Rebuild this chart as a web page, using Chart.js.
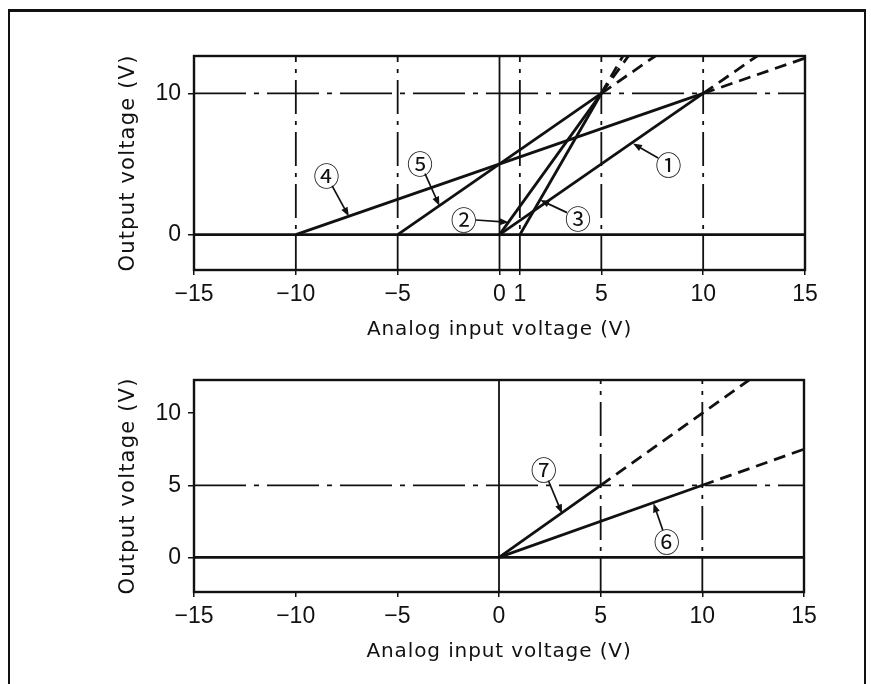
<!DOCTYPE html>
<html><head><meta charset="utf-8">
<script src="https://cdn.jsdelivr.net/npm/chart.js@4.4.1/dist/chart.umd.min.js"></script>
<style>
html,body{margin:0;padding:0;background:#fff;width:871px;height:684px;overflow:hidden;position:relative;}
#frame{position:absolute;left:8px;top:9px;width:858px;height:720px;border:2px solid #111;border-top-width:3px;box-sizing:border-box;}
canvas{position:absolute;left:0;}
#c1{top:0;width:871px;height:350px;}
#c2{top:350px;width:871px;height:334px;}
</style></head><body>
<div id="frame"></div>
<canvas id="c1" width="871" height="350"></canvas>
<canvas id="c2" width="871" height="334"></canvas>
<script>
// ---------------- data ----------------
const xRange = [-15, 15];

// upper chart
const topXTicks  = [-15, -10, -5, 0, 1, 5, 10, 15];
const topXLabels = ['−15', '−10', '−5', '0', '1', '5', '10', '15'];
const topYTicks  = [0, 10];
const topYLabels = ['0', '10'];
const topYRange  = [-2.5, 12.65];
const topDashDotX = [-10, -5, 1, 5, 10];
const topSolidX   = [0];
const topDashDotY = [10];
const topSolidY   = [0];
// series: solid part up to index 1, dashed continuation after it
const s1x = [0, 10, 12.65],  s1y = [0, 10, 12.65];
const s2x = [0, 5, 6.33],    s2y = [0, 10, 12.65];
const s3x = [1, 5, 6.06],    s3y = [0, 10, 12.65];
const s4x = [-10, 10, 15],   s4y = [0, 10, 12.5];
const s5x = [-5, 5, 7.65],   s5y = [0, 10, 12.65];
const topMarks   = ['①', '②', '③', '④', '⑤'];
const topMarkAt  = [[8.3, 5.0], [-1.75, 1.1], [3.85, 1.2], [-8.5, 4.2], [-3.9, 5.1]];
const topMarkTip = [[6.55, 6.45], [0.45, 0.88], [2.0, 2.45], [-7.4, 1.3], [-2.95, 2.05]];

// lower chart
const botXTicks  = [-15, -10, -5, 0, 5, 10, 15];
const botXLabels = ['−15', '−10', '−5', '0', '5', '10', '15'];
const botYTicks  = [0, 5, 10];
const botYLabels = ['0', '5', '10'];
const botYRange  = [-2.4, 12.3];
const botDashDotX = [5, 10];
const botSolidX   = [0];
const botDashDotY = [5];
const botSolidY   = [0];
const s6x = [0, 10, 15],   s6y = [0, 5, 7.5];
const s7x = [0, 5, 12.3],  s7y = [0, 5, 12.3];
const botMarks   = ['⑥', '⑦'];
const botMarkAt  = [[8.25, 1.1], [2.2, 6.1]];
const botMarkTip = [[7.6, 3.75], [3.1, 3.05]];

// ---------------- styling ----------------
const INK = '#111';
const TICK_FONT = {family: '"Liberation Sans", Arial, sans-serif', size: 23};
const TITLE_FAMILY = '"DejaVu Sans", "Liberation Sans", sans-serif';
const DASHDOT_V = [34, 7, 4, 7];
const DASHDOT_H = [52, 8, 5, 8];
const EXT_DASH = [12, 7];

function pts(xs, ys) { return xs.map((x, i) => ({x: x, y: ys[i]})); }
function series(xs, ys) {
  return {data: pts(xs, ys), borderColor: INK, borderWidth: 2.8, pointRadius: 0,
    borderCapStyle: 'butt', tension: 0,
    segment: {borderDash: c => c.p0DataIndex >= 1 ? EXT_DASH : undefined}};
}
function refLine(data, dash, w) {
  return {data: data, borderColor: INK, borderWidth: w, borderDash: dash, pointRadius: 0, tension: 0};
}
function refsV(xs, yr, dash, w) { return xs.map(x => refLine(pts([x, x], yr), dash, w)); }
function refsH(ys, dash, w) { return ys.map(y => refLine(pts(xRange, [y, y]), dash, w)); }

// plugin: plot-area frame, letter spacing for axis titles, circled labels with arrows
const decor = {
  id: 'decor',
  beforeDraw(chart) {
    Object.values(chart.scales).forEach(s => {
      if (s._lsPatched) return;
      const orig = s.drawTitle;
      s.drawTitle = function () {
        const c = this.ctx; const prev = c.letterSpacing;
        c.letterSpacing = this.axis === 'x' ? '0.9px' : '1.2px';
        orig.call(this);
        c.letterSpacing = prev || '0px';
      };
      s._lsPatched = true;
    });
  },
  afterDraw(chart, args, opts) {
    const {ctx, chartArea: a, scales: {x, y}} = chart;
    ctx.save();
    ctx.strokeStyle = INK; ctx.lineWidth = 2.4;
    ctx.strokeRect(a.left, a.top, a.right - a.left, a.bottom - a.top);
    const marks = opts.marks || [];
    marks.forEach((m, i) => {
      const lx = x.getPixelForValue(opts.at[i][0]), ly = y.getPixelForValue(opts.at[i][1]);
      const tx = x.getPixelForValue(opts.tip[i][0]), ty = y.getPixelForValue(opts.tip[i][1]);
      ctx.fillStyle = INK;
      ctx.font = '26px "Noto Sans CJK JP", "DejaVu Sans", sans-serif';
      ctx.textAlign = 'center'; ctx.textBaseline = 'middle';
      ctx.fillText(m, lx, ly + 1);
      const dx = tx - lx, dy = ty - ly, d = Math.hypot(dx, dy);
      const ux = dx / d, uy = dy / d, r = 12;
      ctx.lineWidth = 1.7;
      ctx.beginPath(); ctx.moveTo(lx + ux * r, ly + uy * r); ctx.lineTo(tx - ux * 6, ty - uy * 6); ctx.stroke();
      const hl = 9, hw = 3.5;
      ctx.beginPath();
      ctx.moveTo(tx, ty);
      ctx.lineTo(tx - ux * hl - uy * hw, ty - uy * hl + ux * hw);
      ctx.lineTo(tx - ux * hl + uy * hw, ty - uy * hl - ux * hw);
      ctx.closePath(); ctx.fill();
    });
    ctx.restore();
  }
};

function makeChart(id, cfg) {
  return new Chart(document.getElementById(id), {
    type: 'line',
    data: {datasets: cfg.datasets},
    plugins: [decor],
    options: {
      responsive: false, animation: false, devicePixelRatio: 1,
      layout: {padding: {top: cfg.padTop, right: cfg.padRight, bottom: 0, left: 0}},
      plugins: {legend: {display: false}, tooltip: {enabled: false},
        decor: {marks: cfg.marks, at: cfg.at, tip: cfg.tip}},
      scales: {
        x: {
          type: 'linear', min: xRange[0], max: xRange[1],
          afterBuildTicks: s => { s.ticks = cfg.xTicks.map(v => ({value: v})); },
          afterFit: s => { s.height = cfg.xHeight; },
          ticks: {autoSkip: false, maxRotation: 0, minRotation: 0, color: INK, padding: 6,
            font: TICK_FONT, callback: (v, i) => cfg.xLabels[i]},
          grid: {drawOnChartArea: false, drawTicks: true, tickLength: 5, color: INK, lineWidth: 1.5},
          border: {display: true, color: INK, width: 2},
          title: {display: true, text: 'Analog input voltage (V)', color: INK,
            font: {family: TITLE_FAMILY, size: 20}, padding: {top: 0, bottom: cfg.xTitlePad}}
        },
        y: {
          type: 'linear', min: cfg.yRange[0], max: cfg.yRange[1],
          afterBuildTicks: s => { s.ticks = cfg.yTicks.map(v => ({value: v})); },
          afterFit: s => { s.width = 194; },
          ticks: {autoSkip: false, color: INK, padding: 7, font: TICK_FONT,
            callback: (v, i) => cfg.yLabels[i]},
          grid: {drawOnChartArea: false, drawTicks: true, tickLength: 6, color: INK, lineWidth: 1.5},
          border: {display: true, color: INK, width: 2},
          title: {display: true, text: 'Output voltage (V)', color: INK,
            font: {family: TITLE_FAMILY, size: 21}, padding: {top: 116, bottom: 0}}
        }
      }
    }
  });
}

makeChart('c1', {
  datasets: [
    series(s1x, s1y), series(s2x, s2y), series(s3x, s3y), series(s4x, s4y), series(s5x, s5y),
    ...refsH(topSolidY, undefined, 2.8),
    ...refsV(topSolidX, topYRange, undefined, 1.8),
    ...refsH(topDashDotY, DASHDOT_H, 1.8),
    ...refsV(topDashDotX, topYRange, DASHDOT_V, 1.8)
  ],
  xTicks: topXTicks, xLabels: topXLabels, yTicks: topYTicks, yLabels: topYLabels, yRange: topYRange,
  padTop: 56, padRight: 66, xHeight: 80, xTitlePad: 8,
  marks: topMarks, at: topMarkAt, tip: topMarkTip
});

makeChart('c2', {
  datasets: [
    series(s6x, s6y), series(s7x, s7y),
    ...refsH(botSolidY, undefined, 2.8),
    ...refsV(botSolidX, botYRange, undefined, 1.8),
    ...refsH(botDashDotY, DASHDOT_H, 1.8),
    ...refsV(botDashDotX, botYRange, DASHDOT_V, 1.8)
  ],
  xTicks: botXTicks, xLabels: botXLabels, yTicks: botYTicks, yLabels: botYLabels, yRange: botYRange,
  padTop: 30, padRight: 67, xHeight: 92, xTitlePad: 20,
  marks: botMarks, at: botMarkAt, tip: botMarkTip
});
</script>
</body></html>
